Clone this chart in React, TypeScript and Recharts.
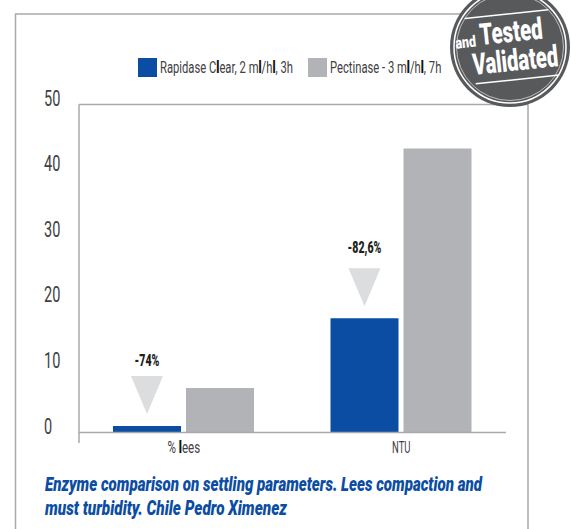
import { Fragment } from "react";
import { Bar, BarChart, LabelList, Legend, XAxis, YAxis } from "recharts";

const categories = ["% lees", "NTU"];
const rapidase = [1, 17.4];
const pectinase = [6.8, 43.3];
const reductions = ["-74%", "-82,6%"];
const yTicks = [0, 10, 20, 30, 40, 50];
const captionLines = [
  "Enzyme comparison on settling parameters. Lees compaction and",
  "must turbidity. Chile Pedro Ximenez",
];

const BLUE = "#0b4da2";
const GREY = "#b1b3b6";
const LINE = "#a7a9ac";
const TEXT = "#414042";
const FONT = "Roboto, sans-serif";
const SQUEEZE = 0.66;
const REDUCTION_GAP = [60, 65];

const seriesList = [
  { key: "rapidase", name: "Rapidase Clear, 2 ml/hl, 3h", color: BLUE, left: 0 },
  { key: "pectinase", name: "Pectinase - 3 ml/hl, 7h", color: GREY, left: 170 },
];

const chartData = categories.map((category, i) => ({
  category,
  rapidase: rapidase[i],
  pectinase: pectinase[i],
  reduction: reductions[i],
}));

// the scan renders every l heavier, keep that look
const heavyL = (label: string, svg: boolean) =>
  label.split(/(l)/).map((part, i) => {
    if (part !== "l") return <Fragment key={i}>{part}</Fragment>;
    return svg ? (
      <tspan key={i} fontWeight="900" fill="#111">{part}</tspan>
    ) : (
      <span key={i} style={{ fontWeight: 900, color: "#111" }}>{part}</span>
    );
  });

// the source face is condensed, nothing installed is, so squeeze Roboto
const Squeezed = ({ x, y, size, anchor, weight, italic, fill, scale, children }: any) => (
  <text
    transform={`translate(${x} ${y}) scale(${scale || SQUEEZE} 1)`}
    textAnchor={anchor || "start"}
    fontSize={size}
    fontWeight={weight || "normal"}
    fontStyle={italic ? "italic" : "normal"}
    fontFamily={FONT}
    fill={fill || TEXT}
  >
    {children}
  </text>
);

const YTick = ({ y, payload }: any) => (
  <Squeezed x={44} y={y + 1} size={22}>
    {payload.value}
  </Squeezed>
);

const XTick = ({ x, y, payload }: any) => (
  <Squeezed x={x} y={y + 12} size={17} anchor="middle" scale={payload.value === "NTU" ? 0.56 : 0.68}>
    {heavyL(payload.value, true)}
  </Squeezed>
);

// triangle and percentage above the blue bars
const ReductionMark = ({ x, y, width, value, index }: any) => {
  const cx = x + width / 2;
  return (
    <g>
      <polygon points={`${cx - 16},${y - 50} ${cx + 16},${y - 50} ${cx},${y - 12}`} fill="#dcddde" />
      <Squeezed x={cx} y={y - REDUCTION_GAP[index]} size={16} anchor="middle" weight="900" fill="#231f20">
        {value}
      </Squeezed>
    </g>
  );
};

const LegendRow = () => (
  <div style={{ position: "relative", height: 20 }}>
    {seriesList.map((s) => (
      <div key={s.key} style={{ position: "absolute", left: s.left, top: 0, height: 19, width: 150 }}>
        <span style={{ position: "absolute", left: 0, top: 0, width: 19, height: 19, background: s.color }} />
        <span
          style={{
            position: "absolute",
            left: 22,
            top: -1,
            fontFamily: FONT,
            fontSize: 17,
            color: TEXT,
            whiteSpace: "nowrap",
            transform: `scaleX(${SQUEEZE})`,
            transformOrigin: "left center",
          }}
        >
          {heavyL(s.name, false)}
        </span>
      </div>
    ))}
  </div>
);

const Badge = () => (
  <g>
    <circle cx={510} cy={47} r={60} fill="#58595b" />
    <circle cx={510} cy={47} r={56} fill="none" stroke="#fff" strokeWidth={1.5} />
    <circle cx={510} cy={47} r={53.5} fill="none" stroke="#fff" strokeWidth={0.6} />
    <g transform="rotate(-6 510 47)">
      <line x1={468} x2={552} y1={14} y2={14} stroke="#fff" strokeWidth={1.5} />
      <Squeezed x={481} y={42} size={30} weight="900" fill="#fff" scale={0.68}>Tested</Squeezed>
      <Squeezed x={456} y={43} size={16} weight="900" fill="#fff" scale={0.78}>and</Squeezed>
      <Squeezed x={471} y={71} size={30} weight="900" fill="#fff" scale={0.67}>Validated</Squeezed>
      <line x1={472} x2={556} y1={80} y2={80} stroke="#fff" strokeWidth={1.5} />
    </g>
  </g>
);

export default function App() {
  return (
    <div style={{ position: "absolute", left: 0, top: 0 }}>
      <BarChart
        width={571}
        height={529}
        data={chartData}
        margin={{ top: 104.5, right: 65, bottom: 66.5, left: 0 }}
        barSize={68}
        barGap={5}
        barCategoryGap={0}
      >
        {/* page frame and plot border */}
        <path d="M15.5 529V14H470M528 529V100" fill="none" stroke={LINE} strokeWidth={1.5} />
        <path d="M79 104.5H528M79 432V443" fill="none" stroke={LINE} strokeWidth={1.5} />
        <XAxis
          dataKey="category"
          height={30}
          tick={<XTick />}
          tickLine={false}
          axisLine={{ stroke: LINE, strokeWidth: 1.5 }}
          padding={{ left: -4, right: -4 }}
          interval={0}
        />
        <YAxis
          width={79}
          domain={[0, 50]}
          ticks={yTicks}
          tick={<YTick />}
          tickLine={false}
          axisLine={{ stroke: LINE, strokeWidth: 1.5 }}
        />
        <Legend
          verticalAlign="middle"
          content={<LegendRow />}
          wrapperStyle={{ position: "absolute", left: 138, top: 58, width: 320 }}
        />
        <Bar dataKey="rapidase" name={seriesList[0].name} fill={BLUE} isAnimationActive={false}>
          <LabelList dataKey="reduction" content={<ReductionMark />} />
        </Bar>
        <Bar dataKey="pectinase" name={seriesList[1].name} fill={GREY} isAnimationActive={false} />
        <Squeezed x={45} y={491} size={21} weight="900" italic fill={BLUE} scale={0.72}>
          {captionLines[0]}
        </Squeezed>
        <Squeezed x={45} y={515} size={21} weight="900" italic fill={BLUE} scale={0.73}>
          {captionLines[1]}
        </Squeezed>
        <Badge />
      </BarChart>
    </div>
  );
}
